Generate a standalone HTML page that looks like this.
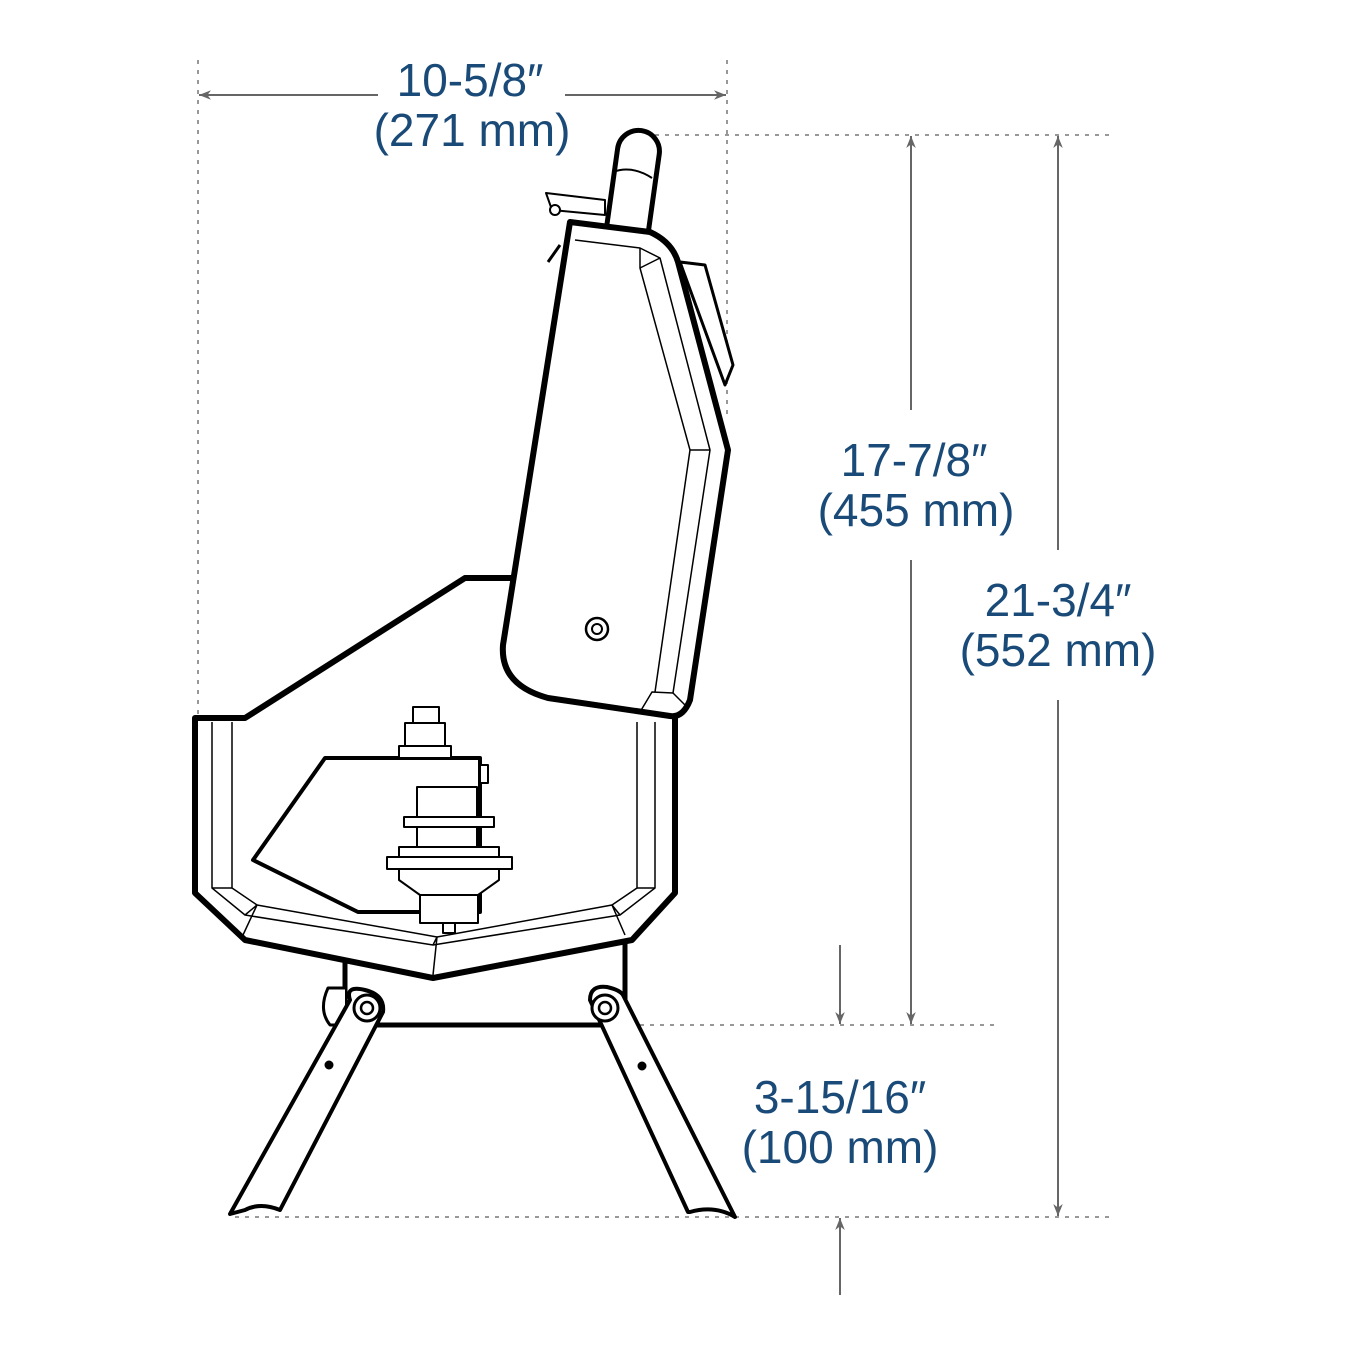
<!DOCTYPE html>
<html><head><meta charset="utf-8"><style>
html,body{margin:0;padding:0;background:#fff;}
svg{display:block}
text{font-family:"Liberation Sans",sans-serif;font-size:46px;fill:#1a4a78;text-anchor:middle}
</style></head><body>
<svg width="1366" height="1346" viewBox="0 0 1366 1346" xmlns="http://www.w3.org/2000/svg">
<defs><marker id="a" viewBox="0 0 10 10" refX="10" refY="5" markerWidth="12" markerHeight="12" orient="auto-start-reverse" markerUnits="userSpaceOnUse"><path d="M0,1 L10,5 L0,9 L3,5z" fill="#666"/></marker></defs>
<g stroke="#777" stroke-width="1.5" stroke-dasharray="4,6" fill="none">
<line x1="198" y1="60" x2="198" y2="715"/>
<line x1="727" y1="60" x2="727" y2="420"/>
<line x1="655" y1="135" x2="1115" y2="135"/>
<line x1="640" y1="1025" x2="1000" y2="1025"/>
<line x1="235" y1="1217" x2="1115" y2="1217"/>
</g>
<g stroke="#666" stroke-width="2" fill="none">
<line x1="378" y1="95" x2="199" y2="95" marker-end="url(#a)"/>
<line x1="565" y1="95" x2="726" y2="95" marker-end="url(#a)"/>
<line x1="911" y1="410" x2="911" y2="136" marker-end="url(#a)"/>
<line x1="911" y1="560" x2="911" y2="1024" marker-end="url(#a)"/>
<line x1="1058" y1="550" x2="1058" y2="136" marker-end="url(#a)"/>
<line x1="1058" y1="700" x2="1058" y2="1216" marker-end="url(#a)"/>
<line x1="840" y1="945" x2="840" y2="1024" marker-end="url(#a)"/>
<line x1="840" y1="1295" x2="840" y2="1218" marker-end="url(#a)"/>
</g>
<text x="470" y="96">10-5/8″</text><text x="472" y="146">(271 mm)</text>
<text x="914" y="476">17-7/8″</text><text x="916" y="526">(455 mm)</text>
<text x="1058" y="616">21-3/4″</text><text x="1058" y="666">(552 mm)</text>
<text x="840" y="1113">3-15/16″</text><text x="840" y="1163">(100 mm)</text>
<g stroke="#000" fill="#fff" stroke-linejoin="round">
<rect x="345" y="940" width="280" height="85" stroke-width="5"/>
<path d="M345,988 L328,988 Q318,1010 330,1025 L345,1025" stroke-width="3"/>
<path d="M195,718 L245,718 L465,578 L512,578 L512,720 L675,720 L675,893 L632,940 L433,978 L245,940 L195,893 Z" stroke="none"/>
<path d="M512,578 L465,578 L245,718 L195,718 L195,893 L245,940 L433,978 L632,940 L675,893 L675,715" fill="none" stroke-width="6"/>
<g fill="none" stroke-width="1.5">
<path d="M212,722 L212,888 L245,915 L433,945 L620,915 L655,888 L655,722"/>
<path d="M232,722 L232,888 L257,905 L437,937 L612,905 L637,888 L637,722"/>
<path d="M212,888 L232,888 M245,915 L257,905 L243,935 M433,945 L437,937 L433,975 M620,915 L612,905 L625,935 M655,888 L637,888"/>
</g>
<path d="M325,758 L480,758 L480,912 L358,912 L253,860 Z" stroke-width="4"/>
<rect x="480" y="765" width="8" height="18" stroke-width="2"/>
<g stroke-width="2">
<rect x="413" y="707" width="26" height="20"/>
<rect x="405" y="723" width="40" height="25"/>
<rect x="399" y="746" width="52" height="12"/>
<rect x="417" y="787" width="60" height="30"/>
<rect x="404" y="817" width="90" height="10"/>
<rect x="417" y="827" width="60" height="20"/>
<rect x="399" y="847" width="100" height="10"/>
<rect x="387" y="857" width="125" height="12"/>
<path d="M399,869 L499,869 L499,880 L478,895 L420,895 L399,880 Z"/>
<rect x="420" y="895" width="58" height="28"/>
<rect x="443" y="923" width="12" height="10"/>
</g>
<rect x="612" y="130" width="42" height="120" rx="21" transform="rotate(8 633 190)" stroke-width="5"/>
<path d="M613,172 Q632,165 652,178" fill="none" stroke-width="2"/>
<path d="M546,193 L605,200 L605,215 L552,210 Z" stroke-width="2"/>
<circle cx="555" cy="210" r="5" stroke-width="2"/>
<path d="M560,245 L548,262" stroke-width="3"/>
<path d="M680,262 L705,265 L733,365 L725,385 Z" stroke-width="3"/>
<path d="M570,222 L650,232 Q672,242 678,262 L728,450 L690,700 Q683,718 670,716 L548,698 Q500,685 503,645 Z" stroke-width="6"/>
<g fill="none" stroke-width="1.5">
<path d="M575,240 L640,248 L660,258 L710,450 L673,693 L652,692 L640,712"/>
<path d="M640,248 L640,268 L690,450 L655,692"/>
<path d="M690,450 L710,450 M660,258 L640,268 M673,693 L685,705"/>
</g>
<circle cx="597" cy="629" r="11" stroke-width="2.5"/><circle cx="597" cy="629" r="5" stroke-width="2"/>
<path d="M350,1000 Q345,985 365,990 Q385,995 383,1012 L280,1210 Q260,1202 245,1210 L230,1214 Z" stroke-width="4"/>
<path d="M590,1000 Q590,985 607,987 Q620,990 623,995 L735,1217 Q715,1205 690,1212 L688,1212 Z" stroke-width="4"/>
<circle cx="367" cy="1008" r="13" stroke-width="3"/><circle cx="367" cy="1008" r="6" stroke-width="2.5"/>
<circle cx="605" cy="1008" r="13" stroke-width="3"/><circle cx="605" cy="1008" r="6" stroke-width="2.5"/>
<circle cx="329" cy="1065" r="4" fill="#000"/><circle cx="642" cy="1066" r="4" fill="#000"/>
</g>
</svg>
</body></html>
